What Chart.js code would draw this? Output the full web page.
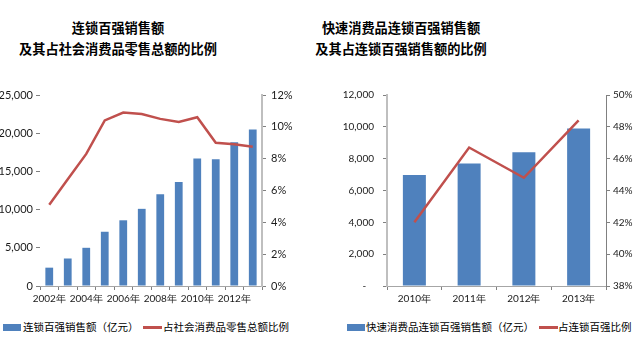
<!DOCTYPE html>
<html>
<head>
<meta charset="utf-8">
<script src="https://cdn.jsdelivr.net/npm/chart.js@4.4.0/dist/chart.umd.min.js"></script>
<style>
  html, body { margin: 0; padding: 0; background: #fff; }
  body { width: 637px; height: 341px; position: relative; overflow: hidden; }
  .box { position: absolute; }
  .title { position: absolute; width: 300px; text-align: center; font-family: "Noto Sans CJK SC", sans-serif;
           font-weight: 700; font-size: 13.2px; line-height: 21px; color: #000; }
  .lg { position: absolute; top: 319px; height: 16px; font-family: "Noto Sans CJK SC", sans-serif; font-size: 10.5px;
        line-height: 16px; color: #000; white-space: nowrap; }
  .sw-bar { position: absolute; top: 5px; width: 18px; height: 7px; background: #4F81BD; }
  .sw-line { position: absolute; top: 7px; width: 19px; height: 2.5px; background: #C0504D; }
</style>
</head>
<body>
<div class="title" style="left:-32px; top:17px;">连锁百强销售额<br>及其占社会消费品零售总额的比例</div>
<div class="title" style="left:251px; top:17px;">快速消费品连锁百强销售额<br>及其占连锁百强销售额的比例</div>

<div class="box" style="left:-10px; top:80px; width:320px; height:230px;"><canvas id="left"></canvas></div>
<div class="box" style="left:320px; top:80px; width:330px; height:230px;"><canvas id="right"></canvas></div>

<div class="lg" style="left:3px; width:320px;">
  <span class="sw-bar" style="left:0"></span><span style="position:absolute; left:20px;">连锁百强销售额（亿元）</span>
  <span class="sw-line" style="left:140px"></span><span style="position:absolute; left:160px;">占社会消费品零售总额比例</span>
</div>
<div class="lg" style="left:347px; width:300px;">
  <span class="sw-bar" style="left:0"></span><span style="position:absolute; left:19px;">快速消费品连锁百强销售额（亿元）</span>
  <span class="sw-line" style="left:192px"></span><span style="position:absolute; left:211px;">占连锁百强比例</span>
</div>

<script>
// 左图：连锁百强销售额及占社零总额比例
const yearsA = ['2002年', '2003年', '2004年', '2005年', '2006年', '2007年', '2008年', '2009年', '2010年', '2011年', '2012年', '2013年'];
const salesA = [2400, 3600, 5000, 7100, 8600, 10100, 12000, 13600, 16700, 16600, 18800, 20500];
const shareA = [5.1, 6.7, 8.3, 10.4, 10.9, 10.8, 10.5, 10.3, 10.6, 9.0, 8.9, 8.75];

// 右图：快速消费品连锁百强销售额及占百强比例
const yearsB = ['2010年', '2011年', '2012年', '2013年'];
const salesB = [6970, 7700, 8400, 9900];
const shareB = [42.0, 46.7, 44.8, 48.4];

const BLUE = '#4F81BD';
const RED = '#C0504D';
const TXT = '#1a1a1a';

function fixWidth(w) { return function (scale) { scale.width = w; }; }
function fixHeight(h) { return function (scale) { scale.height = h; }; }

function makeChart(id, cfg) {
    const tickFont = { family: 'Lato', size: cfg.fontSize };
    return new Chart(document.getElementById(id), {
        data: {
            labels: cfg.labels,
            datasets: [
                {
                    type: 'line',
                    data: cfg.share,
                    yAxisID: 'y1',
                    borderColor: RED,
                    borderWidth: 2.5,
                    pointRadius: 0,
                    tension: 0,
                    order: 0
                },
                {
                    type: 'bar',
                    data: cfg.sales,
                    yAxisID: 'y',
                    backgroundColor: BLUE,
                    categoryPercentage: 1,
                    barPercentage: 0.42,
                    order: 1
                }
            ]
        },
        options: {
            responsive: true,
            maintainAspectRatio: false,
            animation: false,
            layout: { padding: { top: 15, left: 0, right: 0, bottom: 0 } },
            plugins: { legend: { display: false }, title: { display: false }, tooltip: { enabled: false } },
            scales: {
                x: {
                    afterFit: fixHeight(24),
                    grid: { offset: true, drawOnChartArea: false, tickLength: 4, color: '#808080' },
                    border: { display: true, color: '#A6A6A6', width: 1 },
                    ticks: {
                        autoSkip: false, maxRotation: 0, padding: 3, color: TXT,
                        font: { family: 'Lato', size: cfg.xFontSize },
                        callback: function (v, i) { return (i % cfg.every === 0) ? this.getLabelForValue(v) : ''; }
                    }
                },
                y: {
                    position: 'left',
                    min: 0, max: cfg.yMax,
                    afterFit: fixWidth(cfg.leftW),
                    grid: { drawOnChartArea: false, tickLength: 4, color: '#808080' },
                    border: { display: cfg.leftBorder, color: '#BFBFBF', width: 2 },
                    ticks: {
                        stepSize: cfg.yStep, padding: cfg.leftPad, color: TXT, font: tickFont,
                        callback: cfg.yLabel
                    }
                },
                y1: {
                    position: 'right',
                    min: cfg.pMin, max: cfg.pMax,
                    afterFit: fixWidth(cfg.rightW),
                    grid: { drawOnChartArea: false, tickLength: 4, color: '#808080' },
                    border: { display: true, color: cfg.rightBorderColor, width: cfg.rightBorderW },
                    ticks: {
                        stepSize: 2, padding: cfg.rightPad, color: TXT, font: tickFont,
                        callback: v => v + '%'
                    }
                }
            }
        }
    });
}

makeChart('left', {
    labels: yearsA, sales: salesA, share: shareA, every: 2,
    fontSize: 11, xFontSize: 10, yMax: 25000, yStep: 5000,
    yLabel: v => v.toLocaleString('en-US'),
    leftW: 50, rightW: 48, leftPad: 3, rightPad: 5, leftBorder: false,
    pMin: 0, pMax: 12, rightBorderColor: '#BFBFBF', rightBorderW: 2
});

makeChart('right', {
    labels: yearsB, sales: salesB, share: shareB, every: 1,
    fontSize: 10, xFontSize: 10, yMax: 12000, yStep: 2000,
    yLabel: v => v === 0 ? '-   ' : v.toLocaleString('en-US'),
    leftW: 67, rightW: 44, leftPad: 9, rightPad: 3, leftBorder: true,
    pMin: 38, pMax: 50, rightBorderColor: '#808080', rightBorderW: 1
});
</script>
</body>
</html>
